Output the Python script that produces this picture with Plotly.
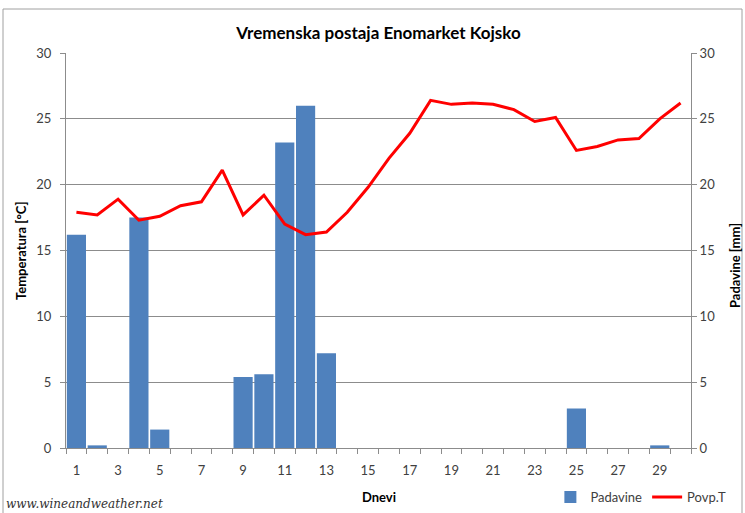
import plotly.graph_objects as go

days = list(range(1, 31))
padavine = [16.2, 0.2, 0, 17.5, 1.4, 0, 0, 0, 5.4, 5.6, 23.2, 26.0, 7.2, 0, 0,
            0, 0, 0, 0, 0, 0, 0, 0, 0, 3.0, 0, 0, 0, 0.2, 0]
povp_t = [17.9, 17.7, 18.9, 17.3, 17.6, 18.4, 18.7, 21.1, 17.7, 19.2, 17.0, 16.2,
          16.4, 17.9, 19.8, 22.0, 23.9, 26.4, 26.1, 26.2, 26.1, 25.7, 24.8, 25.1,
          22.6, 22.9, 23.4, 23.5, 25.0, 26.2]
x_ticks = days[::2]
y_ticks = [0, 5, 10, 15, 20, 25, 30]

FONT = "Lato"
TXT = "#404040"
GRID = "#8c8c8c"

fig = go.Figure()
fig.add_trace(go.Bar(x=days, y=padavine, name="Padavine", marker_color="#4F81BD",
                     marker_line_width=0, yaxis="y"))
fig.add_trace(go.Scatter(x=days, y=povp_t, name="Povp.T", mode="lines",
                         line=dict(color="#FF0000", width=3), yaxis="y2"))

fig.update_layout(
    width=745, height=513,
    margin=dict(l=66, r=54, t=53, b=65, autoexpand=False),
    paper_bgcolor="white", plot_bgcolor="white",
    font=dict(family=FONT, size=13, color=TXT),
    bargap=0.08,
    showlegend=True,
    title=dict(text="<b>Vremenska postaja Enomarket Kojsko</b>", x=0.508, xanchor="center",
               y=1 - 33 / 513, yanchor="middle", font=dict(family=FONT, size=17, color="#000000")),
    xaxis=dict(range=[0.5, 30.5], tickvals=x_ticks, ticktext=[str(v) for v in x_ticks],
               ticks="", showgrid=False, zeroline=False,
               showline=True, linecolor=GRID, linewidth=1, ticklabelstandoff=10,
               minor=dict(tickvals=[d - 0.5 for d in days] + [30.5], ticks="outside",
                          ticklen=5, tickcolor=GRID, showgrid=False),
               tickfont=dict(size=13, color=TXT)),
    yaxis=dict(range=[0, 30], tickvals=y_ticks, side="right", showgrid=True,
               gridcolor=GRID, gridwidth=1, zeroline=False,
               showline=True, linecolor=GRID, ticks="outside", ticklen=5,
               tickcolor=GRID, tickfont=dict(size=13, color=TXT)),
    yaxis2=dict(range=[0, 30], tickvals=y_ticks, side="left", overlaying="y",
                showgrid=False, zeroline=False, showline=True, linecolor=GRID,
                ticks="outside", ticklen=5, tickcolor=GRID, ticklabelstandoff=6,
                tickfont=dict(size=13, color=TXT)),
    legend=dict(orientation="h", x=0.775, xanchor="left", y=-0.124, yanchor="middle",
                font=dict(size=13, color=TXT), bgcolor="rgba(0,0,0,0)",
                itemwidth=30, traceorder="normal"),
)

fig.add_annotation(text="<b>Temperatura [°C]</b>", xref="paper", yref="paper",
                   x=(21 - 66) / 625, xanchor="center", y=(448 - 251) / 395, yanchor="middle",
                   textangle=-90, showarrow=False, font=dict(size=13, color="#000000"))
fig.add_annotation(text="<b>Padavine [mm]</b>", xref="paper", yref="paper",
                   x=(735 - 66) / 625, xanchor="center", y=(448 - 266) / 395, yanchor="middle",
                   textangle=-90, showarrow=False, font=dict(size=13, color="#000000"))
fig.add_annotation(text="<b>Dnevi</b>", xref="paper", yref="paper",
                   x=0.5, y=(448 - 497) / 395, yanchor="middle",
                   showarrow=False, font=dict(size=13, color="#000000"))
fig.add_annotation(text="<i>www.wineandweather.net</i>", xref="paper", yref="paper",
                   x=(4 - 66) / 625, xanchor="left", y=(448 - 504) / 395, yanchor="middle",
                   showarrow=False, font=dict(family="DejaVu Serif", size=12, color="#333333"))
fig.add_shape(type="rect", xref="paper", yref="paper",
              x0=(3 - 66) / 625, x1=(742 - 66) / 625, y0=(448 - 520) / 395, y1=(448 - 9) / 395,
              line=dict(color="#a0a0a0", width=1), layer="below")

fig.write_html("out.html", config={"displayModeBar": False},
               post_script="document.body.style.margin='0';document.body.style.overflow='hidden';")
